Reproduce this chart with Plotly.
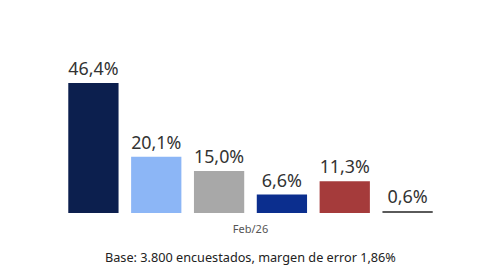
import plotly.graph_objects as go

period = ["Feb/26"]
series_names = ["Opción 1", "Opción 2", "Opción 3", "Opción 4", "Opción 5", "Opción 6"]
values = [46.4, 20.1, 15.0, 6.6, 11.3, 0.6]
colors = ["#0c1f4e", "#8cb6f6", "#a8a8a8", "#0b2e8e", "#a53b3b", "#5a5a5a"]

L, R, T, B = 54, 50, 65, 66
PW = 481 - L - R
PH = 271 - T - B

fig = go.Figure()
for name, v, c in zip(series_names, values, colors):
    fig.add_trace(go.Bar(
        x=period, y=[v], name=name,
        marker=dict(color=c, line=dict(width=0)),
        texttemplate="%{y:.1f}%", textposition="outside",
        textfont=dict(family="Noto Sans", size=18, color="#333333"),
        cliponaxis=False,
    ))

fig.update_layout(
    width=481, height=271,
    margin=dict(l=L, r=R, t=T, b=B, autoexpand=False),
    paper_bgcolor="white", plot_bgcolor="rgba(0,0,0,0)",
    barmode="group", bargap=0, bargroupgap=0.2,
    showlegend=False,
    separators=",.",
    xaxis=dict(showline=False, showgrid=False, ticks="", ticklabelstandoff=8,
               tickfont=dict(family="Noto Sans", size=11, color="#555555")),
    yaxis=dict(range=[0, 50], visible=False),
    annotations=[dict(
        xref="paper", yref="paper", x=(242 - L) / PW, y=-(249 - (T + PH)) / PH,
        yanchor="middle", xanchor="center",
        text="Base: 3.800 encuestados, margen de error 1,86%", showarrow=False,
        font=dict(family="Noto Sans", size=12.7, color="#222222"))],
)

fig.write_html("out.html")
